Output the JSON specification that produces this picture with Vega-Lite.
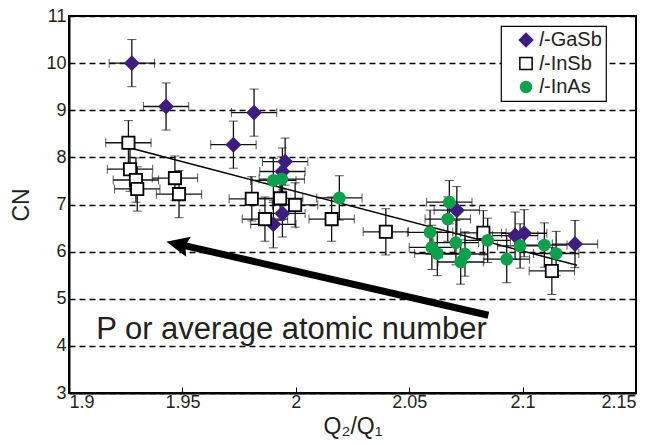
{
  "$schema": "https://vega.github.io/schema/vega-lite/v6.json",
  "width": 567,
  "height": 377,
  "autosize": {"type": "none"},
  "padding": {"left": 69, "top": 16, "right": 18, "bottom": 52},
  "config": {
    "font": "Liberation Sans",
    "view": {"stroke": "black", "strokeWidth": 2},
    "axis": {
      "labelFont": "Liberation Sans",
      "titleFont": "Liberation Sans",
      "labelColor": "#231f20",
      "titleColor": "#231f20",
      "titleFontWeight": "normal",
      "labelFontSize": 18,
      "titleFontSize": 23,
      "domainColor": "black",
      "domainWidth": 2,
      "tickColor": "black",
      "tickWidth": 1
    },
    "legend": {
      "strokeColor": "black",
      "strokeWidth": 1.2,
      "fillColor": "white",
      "padding": 4,
      "labelFont": "Liberation Sans",
      "labelFontSize": 20,
      "labelColor": "#231f20",
      "rowPadding": 3.5,
      "symbolStrokeWidth": 1.5,
      "labelOffset": 3,
      "symbolOffset": 11
    }
  },
  "datasets": {
    "pts": [
      {"series": "𝑙-GaSb", "x": 1.9277, "y": 10.0, "xe": 0.01, "ye": 0.5},
      {"series": "𝑙-GaSb", "x": 1.9428, "y": 9.08, "xe": 0.01, "ye": 0.5},
      {"series": "𝑙-GaSb", "x": 1.9816, "y": 8.95, "xe": 0.01, "ye": 0.5},
      {"series": "𝑙-GaSb", "x": 1.9725, "y": 8.27, "xe": 0.01, "ye": 0.5},
      {"series": "𝑙-GaSb", "x": 1.9953, "y": 7.91, "xe": 0.01, "ye": 0.5},
      {"series": "𝑙-GaSb", "x": 1.9941, "y": 7.7, "xe": 0.01, "ye": 0.5},
      {"series": "𝑙-GaSb", "x": 1.9941, "y": 6.81, "xe": 0.01, "ye": 0.5},
      {"series": "𝑙-GaSb", "x": 1.9901, "y": 6.58, "xe": 0.01, "ye": 0.5},
      {"series": "𝑙-GaSb", "x": 2.071, "y": 6.88, "xe": 0.01, "ye": 0.5},
      {"series": "𝑙-GaSb", "x": 2.0967, "y": 6.34, "xe": 0.01, "ye": 0.5},
      {"series": "𝑙-GaSb", "x": 2.1007, "y": 6.39, "xe": 0.01, "ye": 0.5},
      {"series": "𝑙-GaSb", "x": 2.1231, "y": 6.16, "xe": 0.01, "ye": 0.5},
      {"series": "𝑙-InSb", "x": 1.9262, "y": 8.31, "xe": 0.01, "ye": 0.47},
      {"series": "𝑙-InSb", "x": 1.9269, "y": 7.75, "xe": 0.01, "ye": 0.47},
      {"series": "𝑙-InSb", "x": 1.9295, "y": 7.52, "xe": 0.01, "ye": 0.47},
      {"series": "𝑙-InSb", "x": 1.9301, "y": 7.33, "xe": 0.01, "ye": 0.47},
      {"series": "𝑙-InSb", "x": 1.9467, "y": 7.56, "xe": 0.01, "ye": 0.47},
      {"series": "𝑙-InSb", "x": 1.9485, "y": 7.22, "xe": 0.01, "ye": 0.5},
      {"series": "𝑙-InSb", "x": 1.9806, "y": 7.12, "xe": 0.01, "ye": 0.47},
      {"series": "𝑙-InSb", "x": 1.9931, "y": 7.13, "xe": 0.01, "ye": 0.47},
      {"series": "𝑙-InSb", "x": 1.9997, "y": 6.99, "xe": 0.01, "ye": 0.47},
      {"series": "𝑙-InSb", "x": 1.9864, "y": 6.69, "xe": 0.01, "ye": 0.47},
      {"series": "𝑙-InSb", "x": 2.0158, "y": 6.69, "xe": 0.01, "ye": 0.47},
      {"series": "𝑙-InSb", "x": 2.0397, "y": 6.42, "xe": 0.01, "ye": 0.49},
      {"series": "𝑙-InSb", "x": 2.0827, "y": 6.4, "xe": 0.01, "ye": 0.47},
      {"series": "𝑙-InSb", "x": 2.1129, "y": 5.59, "xe": 0.01, "ye": 0.5},
      {"series": "𝑙-InAs", "x": 1.9901, "y": 7.51, "xe": 0.01, "ye": 0.47},
      {"series": "𝑙-InAs", "x": 1.9938, "y": 7.54, "xe": 0.01, "ye": 0.47},
      {"series": "𝑙-InAs", "x": 2.0192, "y": 7.14, "xe": 0.01, "ye": 0.47},
      {"series": "𝑙-InAs", "x": 2.0677, "y": 7.05, "xe": 0.01, "ye": 0.46},
      {"series": "𝑙-InAs", "x": 2.067, "y": 6.69, "xe": 0.01, "ye": 0.47},
      {"series": "𝑙-InAs", "x": 2.0592, "y": 6.41, "xe": 0.01, "ye": 0.47},
      {"series": "𝑙-InAs", "x": 2.06, "y": 6.09, "xe": 0.01, "ye": 0.47},
      {"series": "𝑙-InAs", "x": 2.0624, "y": 5.96, "xe": 0.01, "ye": 0.47},
      {"series": "𝑙-InAs", "x": 2.0706, "y": 6.19, "xe": 0.01, "ye": 0.47},
      {"series": "𝑙-InAs", "x": 2.0746, "y": 5.95, "xe": 0.01, "ye": 0.47},
      {"series": "𝑙-InAs", "x": 2.0727, "y": 5.78, "xe": 0.01, "ye": 0.47},
      {"series": "𝑙-InAs", "x": 2.0846, "y": 6.24, "xe": 0.01, "ye": 0.47},
      {"series": "𝑙-InAs", "x": 2.093, "y": 5.84, "xe": 0.01, "ye": 0.5},
      {"series": "𝑙-InAs", "x": 2.0989, "y": 6.12, "xe": 0.01, "ye": 0.47},
      {"series": "𝑙-InAs", "x": 2.1096, "y": 6.14, "xe": 0.01, "ye": 0.47},
      {"series": "𝑙-InAs", "x": 2.1148, "y": 5.96, "xe": 0.01, "ye": 0.47}
    ],
    "trend": [
      {"x": 1.927, "y": 8.2},
      {"x": 2.124, "y": 5.71}
    ],
    "arrow": [
      {"x": 1.949, "y": 6.15, "x2": 2.0849, "y2": 4.65}
    ],
    "head": [
      {"x": 1.9478, "y": 6.157}
    ],
    "label": [
      {"x": 1.912, "y": 4.14, "t": "P or average atomic number"}
    ]
  },
  "encoding": {
    "x": {
      "field": "x",
      "type": "quantitative",
      "scale": {"domain": [1.9, 2.15], "nice": false, "zero": false},
      "axis": {
        "values": [1.9, 1.95, 2, 2.05, 2.1, 2.15],
        "format": "~g",
        "title": "Q₂/Q₁",
        "grid": false,
        "tickSize": -6,
        "labelPadding": 6,
        "titlePadding": 4
      }
    },
    "y": {
      "field": "y",
      "type": "quantitative",
      "scale": {"domain": [3, 11], "nice": false, "zero": false},
      "axis": {
        "values": [3, 4, 5, 6, 7, 8, 9, 10, 11],
        "title": "CN",
        "grid": true,
        "gridColor": "black",
        "gridDash": [6, 4],
        "gridWidth": 1.5,
        "gridOpacity": 1,
        "tickSize": -5,
        "labelPadding": 8,
        "titlePadding": 12
      }
    }
  },
  "layer": [
    {
      "data": {"name": "trend"},
      "mark": {"type": "line", "color": "black", "strokeWidth": 1.5},
      "encoding": {}
    },
    {
      "data": {"name": "pts"},
      "mark": {"type": "errorbar", "ticks": {"size": 9, "color": "#111111", "strokeWidth": 1.3}, "rule": {"color": "#111111", "strokeWidth": 1.3}},
      "encoding": {"xError": {"field": "xe"}}
    },
    {
      "data": {"name": "pts"},
      "mark": {"type": "errorbar", "ticks": {"size": 9, "color": "#111111", "strokeWidth": 1.3}, "rule": {"color": "#111111", "strokeWidth": 1.3}},
      "encoding": {"yError": {"field": "ye"}}
    },
    {
      "data": {"name": "pts"},
      "mark": {"type": "point", "strokeWidth": 1.8, "opacity": 1, "filled": false},
      "encoding": {
        "shape": {
          "field": "series",
          "type": "nominal",
          "scale": {"domain": ["𝑙-GaSb", "𝑙-InSb", "𝑙-InAs"], "range": ["diamond", "square", "circle"]},
          "legend": {"title": null, "orient": "none", "legendX": 432, "legendY": 10}
        },
        "fill": {
          "field": "series",
          "type": "nominal",
          "scale": {"domain": ["𝑙-GaSb", "𝑙-InSb", "𝑙-InAs"], "range": ["#3f1d7f", "#ffffff", "#0ca14a"]},
          "legend": {"title": null, "orient": "none", "legendX": 432, "legendY": 10}
        },
        "stroke": {
          "field": "series",
          "type": "nominal",
          "scale": {"domain": ["𝑙-GaSb", "𝑙-InSb", "𝑙-InAs"], "range": ["#3f1d7f", "#000000", "#0ca14a"]},
          "legend": {"title": null, "orient": "none", "legendX": 432, "legendY": 10}
        },
        "size": {
          "field": "series",
          "type": "nominal",
          "scale": {"domain": ["𝑙-GaSb", "𝑙-InSb", "𝑙-InAs"], "range": [180, 120, 150]},
          "legend": {"title": null, "orient": "none", "legendX": 432, "legendY": 10}
        }
      }
    },
    {
      "data": {"name": "arrow"},
      "mark": {"type": "rule", "color": "black", "strokeWidth": 7},
      "encoding": {"x2": {"field": "x2"}, "y2": {"field": "y2"}}
    },
    {
      "data": {"name": "head"},
      "mark": {"type": "point", "filled": true, "color": "black", "opacity": 1, "shape": "M -1 0 L 1 -0.9 L 0.7 0 L 1 0.9 Z", "size": 520, "angle": 12.8},
      "encoding": {}
    },
    {
      "data": {"name": "label"},
      "mark": {"type": "text", "align": "left", "baseline": "alphabetic", "fontSize": 31, "font": "Liberation Sans", "color": "#231f20"},
      "encoding": {"text": {"field": "t"}}
    }
  ]
}
